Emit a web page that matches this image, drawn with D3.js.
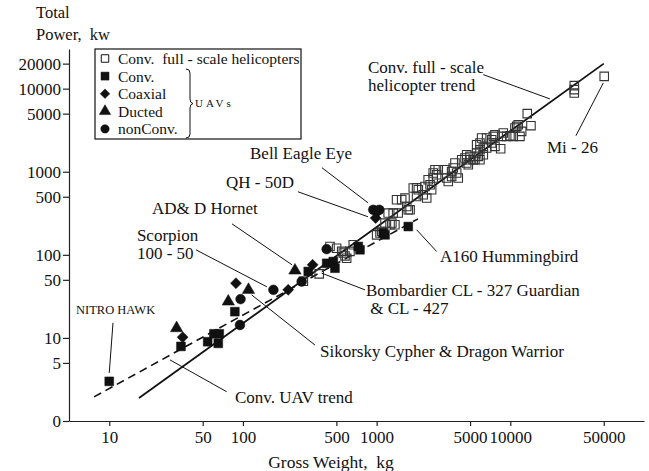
<!DOCTYPE html>
<html><head><meta charset="utf-8">
<script src="https://cdn.jsdelivr.net/npm/d3@7"></script>
<style>body{margin:0;background:#fff}</style>
</head><body><svg id="c" width="649" height="471"></svg>
<script>
// ---- data (gross weight kg, total power kW) ----
const xTicks = [10, 50, 100, 500, 1000, 5000, 10000, 50000];
const yTicks = [1, 5, 10, 50, 100, 500, 1000, 5000, 10000, 20000];
const yTickLabels = ["0", "5", "10", "50", "100", "500", "1000", "5000", "10000", "20000"];

const heliFull = [[283,48],[372,59],[502,120],[563,105],[580,97],[632,110],[669,132],[548,110],[597,91],[448,126],
[1000,174],[1060,183],[1090,191],[1155,241],[1300,241],[1370,230],[1260,230],[1220,318],[1330,318],[1450,318],
[1410,460],[1540,460],[1630,482],[1680,382],[1725,348],[1780,348],[1880,636],[1990,504],[2050,607],[1990,640],
[2230,528],[2300,665],[2370,482],[2430,800],[2510,697],[2580,607],[2650,840],[2650,965],[2730,1057],[2810,920],
[2890,1057],[3245,1057],[3340,840],[3435,764],[3640,1008],[3640,877],[3740,1108],[3855,1273],[3970,965],[4080,840],
[4330,1395],[4580,1462],[4720,1602],[4720,1273],[4850,1214],[4990,1529],[4990,1395],[5280,1395],[5440,1395],[5600,2115],
[5600,1680],[5760,1529],[5930,2217],[5930,1841],[5930,1395],[6100,2547],[6280,1930],[6280,1602],[6650,2547],[6650,1930],
[7250,2430],[7250,2217],[7460,2663],[7680,2792],[7680,2017],[8470,1893],[8620,2663],[8860,2926],[9390,2663],[9940,2715],
[10520,2663],[10830,3361],[11160,3515],[11470,3683],[12160,3058],[11810,2663],[13390,5000],[14270,3583],
[30100,10870],[30100,9730],[30100,8870],[50400,14060]];
const uavConv = [[10,3.0],[34.4,7.9],[54.5,9.0],[60.7,11.2],[66.5,11.2],[65.4,8.6],[87,20.7],[308,63],[423,79],[474,83],[488,69],[729,126],[751,115],[1120,183],[1155,174],[1725,219]];
const uavCoaxial = [[35.4,10.2],[88.7,45.6],[218,37.9],[332,75.8],[984,277]];
const uavDucted = [[31.9,13.1],[77.7,27.4],[110,37.9],[245,64.7]];
const uavNonConv = [[95,14.3],[96,29.3],[169,37.9],[275,47.7],[423,117],[944,348],[1000,332],[1047,348]];
const heliTrend = [[16.7,1.89],[50000,20000]];
const uavTrend = [[7.7,1.95],[2040,271]];

// annotations: text lines anchored at [x,y] data values, leader from/to data values
const annotations = [
  {lines:["NITRO HAWK"], at:[5.64,19.5], small:true, from:[10.67,15.2], to:[10,3.79]},
  {lines:["Scorpion","100 - 50"], at:[16.1,147.5], from:[44.5,114.9], to:[151,41.2]},
  {lines:["AD& D Hornet"], at:[20.9,312], from:[82.8,236], to:[233,75.8]},
  {lines:["QH - 50D"], at:[74.7,642], from:[258,574], to:[862,287]},
  {lines:["Bell Eagle Eye"], at:[113,1434], from:[390,1117], to:[862,423]},
  {lines:["A160 Hummingbird"], at:[2978,82.4], from:[1993,200], to:[2813,109.6]},
  {lines:["Bombardier CL - 327 Guardian"," & CL - 427"], at:[833,32.1], from:[388,60.2], to:[818,37.9]},
  {lines:["Sikorsky Cypher & Dragon Warrior"], at:[377,5.9], from:[116,33], to:[346,8.2]},
  {lines:["Conv. UAV trend"], at:[87.2,1.65], from:[28.5,5.43], to:[75.6,2.25]},
  {lines:["Conv. full - scale","helicopter trend"], at:[862,15500], from:[6276,14750], to:[19800,7516]},
  {lines:["Mi - 26"], at:[18800,1694], from:[30980,2715], to:[49600,11710]}
];

const legendItems = [
  {label:"Conv.  full - scale helicopters", type:"open"},
  {label:"Conv.", type:"square"},
  {label:"Coaxial", type:"diamond"},
  {label:"Ducted", type:"triangle"},
  {label:"nonConv.", type:"circle"}
];

// ---- drawing ----
const FONT = "'Liberation Serif','Times New Roman',serif";
const svg = d3.select("#c");
const x = d3.scaleLog().domain([5, 100000]).range([69, 644]);
const y = d3.scaleLog().domain([1, 30000]).range([421, 49]);

const xAxis = d3.axisBottom(x).tickValues(xTicks).tickFormat(d3.format("d")).tickSize(5).tickSizeOuter(0).tickPadding(5);
const yAxis = d3.axisLeft(y).tickValues(yTicks).tickFormat((d,i)=>yTickLabels[i]).tickSize(6).tickSizeOuter(0).tickPadding(2);

const gx = svg.append("g").attr("transform","translate(0,421)").call(xAxis);
const gy = svg.append("g").attr("transform","translate(69,0)").call(yAxis);
[gx,gy].forEach(g=>{
  g.selectAll("path,line").attr("stroke","#222").attr("stroke-width",1.2);
  g.selectAll("text").attr("font-family",FONT).attr("font-size",17).attr("fill","#111");
});

// axis titles
svg.append("text").attr("x",36).attr("y",18).text("Total").attr("font-family",FONT).attr("font-size",16.5).attr("fill","#111");
svg.append("text").attr("x",36).attr("y",40).text("Power,  kw").attr("font-family",FONT).attr("font-size",16.5).attr("fill","#111").style("white-space","pre");
svg.append("text").attr("x",331).attr("y",468).attr("text-anchor","middle").text("Gross Weight,  kg").attr("font-family",FONT).attr("font-size",17.5).attr("fill","#111").style("white-space","pre");

// trend lines
const line = d3.line().x(d=>x(d[0])).y(d=>y(d[1]));
svg.append("path").attr("d",line(uavTrend)).attr("fill","none").attr("stroke","#111").attr("stroke-width",1.6).attr("stroke-dasharray","8,5");
svg.append("path").attr("d",line(heliTrend)).attr("fill","none").attr("stroke","#111").attr("stroke-width",1.8);

// symbols
const sym = {
  open: d3.symbol().type(d3.symbolSquare).size(72),
  square: d3.symbol().type(d3.symbolSquare).size(78),
  diamond: d3.symbol().type(d3.symbolSquare).size(60),
  triangle: d3.symbol().type(d3.symbolTriangle).size(66),
  circle: d3.symbol().type(d3.symbolCircle).size(75)
};
function drawSet(data, type){
  svg.append("g").selectAll("path").data(data).join("path")
    .attr("d", sym[type]())
    .attr("transform", d=>`translate(${x(d[0])},${y(d[1])})` + (type==="diamond"?" rotate(45)":""))
    .attr("fill", type==="open" ? "none" : "#111")
    .attr("stroke", type==="open" ? "#333" : "#111")
    .attr("stroke-width", type==="open" ? 1.1 : 0.5);
}
drawSet(heliFull,"open");
drawSet(uavConv,"square");
drawSet(uavCoaxial,"diamond");
drawSet(uavDucted,"triangle");
drawSet(uavNonConv,"circle");

// annotations
annotations.forEach(a=>{
  svg.append("line").attr("x1",x(a.from[0])).attr("y1",y(a.from[1])).attr("x2",x(a.to[0])).attr("y2",y(a.to[1]))
    .attr("stroke","#111").attr("stroke-width",1);
  const t = svg.append("text").attr("font-family",FONT).attr("font-size",a.small?12.5:17).attr("fill","#111").style("white-space","pre");
  a.lines.forEach((l,i)=>{
    t.append("tspan").attr("x",x(a.at[0])).attr("y",y(a.at[1]) + i*18).text(l);
  });
});

// legend
const lg = svg.append("g");
lg.append("rect").attr("x",95).attr("y",49).attr("width",206).attr("height",90).attr("fill","#fff").attr("stroke","#111").attr("stroke-width",1.2);
legendItems.forEach((it,i)=>{
  const cy = 58.5 + i*17.6;
  const s = it.type==="open" ? d3.symbol().type(d3.symbolSquare).size(56) :
            it.type==="diamond" ? d3.symbol().type(d3.symbolSquare).size(46) :
            d3.symbol().type(it.type==="square"?d3.symbolSquare:it.type==="triangle"?d3.symbolTriangle:d3.symbolCircle).size(it.type==="square"?64:56);
  lg.append("path").attr("d",s()).attr("transform",`translate(105,${cy})`+(it.type==="diamond"?" rotate(45)":""))
    .attr("fill",it.type==="open"?"#fff":"#111").attr("stroke","#111").attr("stroke-width",it.type==="open"?1:0.5);
  lg.append("text").attr("x",118).attr("y",cy+5.5).text(it.label)
    .attr("font-family",FONT).attr("font-size",15.5).attr("fill","#111").style("white-space","pre");
});
// brace for UAVs
lg.append("path").attr("d","M186,69 q4,0 4,4 v26 q0,4 3,4.5 q-3,0.5 -3,4.5 v26 q0,4 -4,4")
  .attr("fill","none").attr("stroke","#111").attr("stroke-width",1);
lg.append("text").attr("x",195).attr("y",107).text("UAVs").attr("font-family",FONT).attr("font-size",11)
  .attr("letter-spacing",3).attr("fill","#111");
</script>
</body></html>
